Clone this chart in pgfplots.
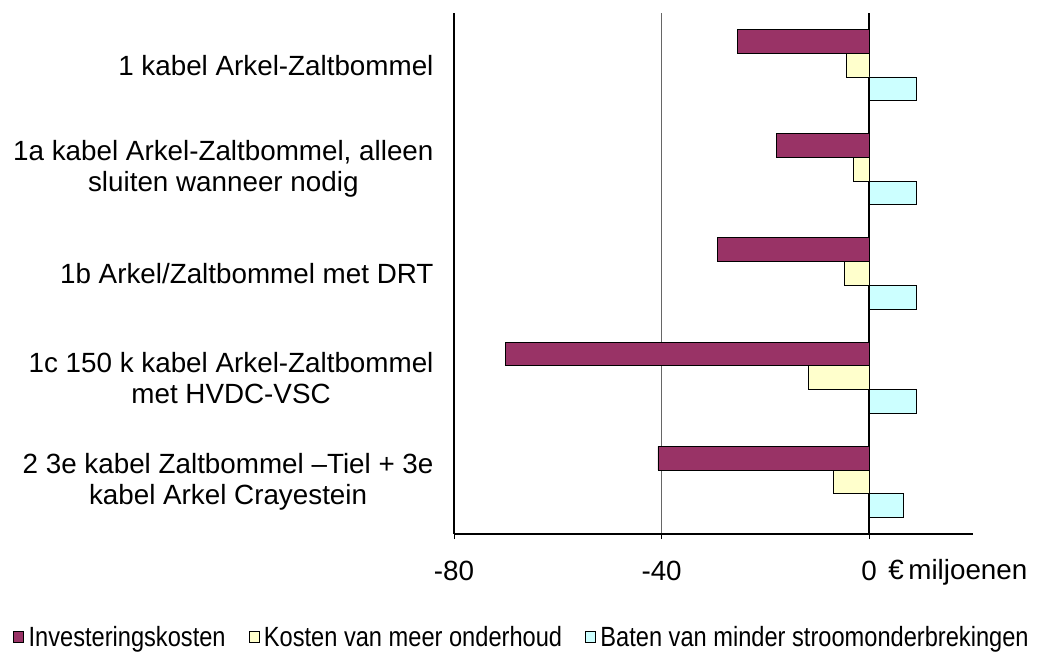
\documentclass[border=0pt]{standalone}
\usepackage{pgfplots}
\pgfplotsset{compat=1.18}
\usepackage{fontspec}
\setmainfont{Liberation Sans}

\definecolor{invest}{HTML}{993366}
\definecolor{kosten}{HTML}{FFFFCC}
\definecolor{baten}{HTML}{CCFFFF}

\newcommand{\lbl}{\fontsize{27.8}{31}\selectfont}

\begin{document}
\begin{tikzpicture}
\path[use as bounding box] (0,0) rectangle (1046pt,657pt);
\begin{axis}[
  at={(454pt,123pt)}, anchor=south west,
  scale only axis, width=519pt, height=521pt,
  xbar, bar width=0.228,
  xmin=-80, xmax=20,
  ymin=-0.5, ymax=4.5,
  axis x line*=bottom, axis y line*=left,
  axis line style={black, line width=1.2pt},
  every inner x axis line/.append style={-},
  every inner y axis line/.append style={-},
  xtick={-80,-40}, xticklabels={-80,-40},
  extra x ticks={0}, extra x tick labels={0},
  extra x tick style={grid=major, major grid style={black, line width=1.6pt}},
  xmajorgrids, major grid style={black!60, line width=1pt},
  tick align=outside, major tick length=5pt,
  x tick style={black, line width=0.8pt},
  xticklabel style={font=\lbl, yshift=-19pt},
  ytick={0,1,2,3,4},
  y tick style={draw=none},
  yticklabels={
    {2 3e kabel Zaltbommel –Tiel + 3e\\kabel Arkel Crayestein},
    {1c 150 k kabel Arkel-Zaltbommel\\met HVDC-VSC},
    {1b Arkel/Zaltbommel met DRT},
    {1a kabel Arkel-Zaltbommel, alleen\\sluiten wanneer nodig},
    {1 kabel Arkel-Zaltbommel}},
  yticklabel style={font=\lbl, align=center, anchor=east, xshift=-12pt},
  xlabel={€\,miljoenen},
  xlabel style={font=\lbl, at={(axis description cs:0.83,-0.073)}, anchor=west},
  legend columns=3,
  legend style={at={(axis description cs:0.131,-0.198)}, anchor=center,
    draw=none, font=\lbl, inner sep=0pt,
    /tikz/every even column/.append style={column sep=21pt}},
  legend image code/.code={%
    \draw[#1, draw=black, line width=0.6pt] (0pt,-5pt) rectangle (10pt,6pt);
    \path[draw=none, fill=none] (0pt,0pt) -- (13pt,0pt);},
]
\addplot[fill=invest, draw=black, line width=0.9pt, bar shift=0.228]
  coordinates {(-25.4,4) (-17.8,3) (-29.2,2) (-70.0,1) (-40.7,0)};
\addplot[fill=kosten, draw=black, line width=0.9pt, bar shift=0]
  coordinates {(-4.4,4) (-3.0,3) (-4.8,2) (-11.75,1) (-6.9,0)};
\addplot[fill=baten, draw=black, line width=0.9pt, bar shift=-0.228]
  coordinates {(9.1,4) (9.1,3) (9.1,2) (9.1,1) (6.6,0)};
\legend{\scalebox{0.85}[1]{Investeringskosten},
        \scalebox{0.85}[1]{Kosten van meer onderhoud},
        \scalebox{0.85}[1]{Baten van minder stroomonderbrekingen}}
\end{axis}
\end{tikzpicture}
\end{document}
